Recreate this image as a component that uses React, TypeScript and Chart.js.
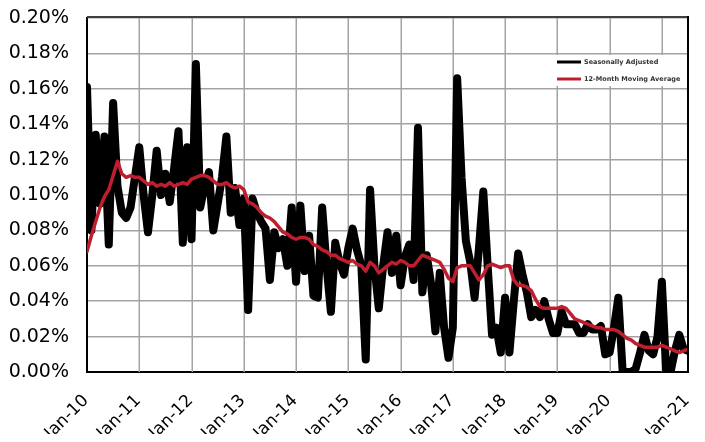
import React, { useEffect, useRef } from 'react';
import { Chart, registerables } from 'chart.js';

Chart.register(...registerables);

const TITLE = 'Figure 1: Lafayette Parish Foreclosure Rate (SA)';
const YEARS = ['10', '11', '12', '13', '14', '15', '16', '17', '18', '19', '20', '21'];
const MONTHS = ['Jan', 'Feb', 'Mar', 'Apr', 'May', 'Jun', 'Jul', 'Aug', 'Sep', 'Oct', 'Nov', 'Dec'];
const LAST_YEAR_MONTHS = 7; // Jan-21 .. Jul-21

const X_TICK_LABELS = ['Jan-10', 'Jan-11', 'Jan-12', 'Jan-13', 'Jan-14', 'Jan-15', 'Jan-16', 'Jan-17', 'Jan-18', 'Jan-19', 'Jan-20', 'Jan-21'];
const Y_TICKS = [0, 0.02, 0.04, 0.06, 0.08, 0.1, 0.12, 0.14, 0.16, 0.18, 0.2];

const SERIES_NAMES = ['Seasonally Adjusted', '12-Month Moving Average'];

// Seasonally adjusted foreclosure rate (%), monthly Jan-10 .. Jul-21
const SEASONALLY_ADJUSTED = [
  0.161, 0.080, 0.134, 0.095, 0.133, 0.072, 0.152, 0.105, 0.090, 0.087, 0.093, 0.110,
  0.127, 0.100, 0.079, 0.100, 0.125, 0.100, 0.112, 0.096, 0.115, 0.136, 0.073, 0.127,
  0.075, 0.174, 0.093, 0.105, 0.113, 0.080, 0.095, 0.110, 0.133, 0.090, 0.104, 0.083,
  0.098, 0.035, 0.098, 0.090, 0.085, 0.081, 0.052, 0.079, 0.070, 0.075, 0.060, 0.093,
  0.051, 0.094, 0.057, 0.077, 0.043, 0.042, 0.093, 0.060, 0.034, 0.073, 0.062, 0.055,
  0.070, 0.081, 0.069, 0.060, 0.007, 0.103, 0.060, 0.036, 0.060, 0.079, 0.056, 0.077,
  0.049, 0.065, 0.072, 0.052, 0.138, 0.045, 0.066, 0.050, 0.023, 0.056, 0.025, 0.008,
  0.025, 0.166, 0.110, 0.074, 0.062, 0.042, 0.070, 0.102, 0.060, 0.021, 0.025, 0.011,
  0.042, 0.011, 0.040, 0.067, 0.055, 0.045, 0.031, 0.035, 0.031, 0.040, 0.030, 0.022,
  0.022, 0.034, 0.027, 0.027, 0.027, 0.022, 0.022, 0.027, 0.024, 0.024, 0.026, 0.010,
  0.011, 0.025, 0.042, 0.000, 0.000, 0.000, 0.002, 0.011, 0.021, 0.012, 0.010, 0.020,
  0.051, 0.000, 0.000, 0.012, 0.021, 0.013, 0.012,
];

// 12-month moving average (%)
const MOVING_AVERAGE = [
  0.068, 0.077, 0.085, 0.093, 0.099, 0.103, 0.111, 0.119, 0.112, 0.110, 0.111, 0.110,
  0.110, 0.108, 0.106, 0.107, 0.105, 0.106, 0.105, 0.107, 0.105, 0.106, 0.107, 0.106,
  0.109, 0.110, 0.111, 0.111, 0.110, 0.108, 0.106, 0.106, 0.107, 0.105, 0.104, 0.105,
  0.103, 0.096, 0.095, 0.093, 0.090, 0.088, 0.087, 0.085, 0.082, 0.079, 0.078, 0.076,
  0.075, 0.076, 0.076, 0.075, 0.072, 0.071, 0.069, 0.068, 0.066, 0.066, 0.064, 0.063,
  0.062, 0.063, 0.061, 0.060, 0.057, 0.062, 0.060, 0.056, 0.058, 0.060, 0.062, 0.061,
  0.063, 0.062, 0.060, 0.060, 0.063, 0.066, 0.065, 0.064, 0.063, 0.062, 0.058, 0.053,
  0.051, 0.059, 0.060, 0.060, 0.060, 0.056, 0.052, 0.055, 0.060, 0.061, 0.060, 0.059,
  0.060, 0.060, 0.052, 0.049, 0.049, 0.048, 0.046, 0.041, 0.037, 0.036, 0.036, 0.036,
  0.036, 0.037, 0.036, 0.033, 0.030, 0.029, 0.028, 0.027, 0.026, 0.025, 0.025, 0.024,
  0.024, 0.024, 0.023, 0.021, 0.019, 0.018, 0.016, 0.015, 0.014, 0.014, 0.014, 0.014,
  0.015, 0.014, 0.013, 0.012, 0.011, 0.012, 0.013,
];

const BLACK = '#000000';
const RED = '#be1e2d';
const GRID = '#a3a3a3';
const FONT = '"DejaVu Sans", sans-serif';

const CATEGORIES: string[] = [];
YEARS.forEach((y, yi) => {
  const n = yi === YEARS.length - 1 ? LAST_YEAR_MONTHS : 12;
  for (let m = 0; m < n; m++) CATEGORIES.push(`${MONTHS[m]}-${y}`);
});
const LAST = CATEGORIES.length - 1;

// positions (month index) of the x-axis labels, as placed in the source chart
const X_TICK_POS: number[] = X_TICK_LABELS.map((_, i) => (i < X_TICK_LABELS.length - 1 ? i * 12 : LAST));
// vertical gridlines every January
const X_GRID_POS: number[] = X_TICK_LABELS.slice(1).map((_, i) => (i + 1) * 12);

const decorPlugin = {
  id: 'decor',
  beforeDraw(chart: any) {
    const { ctx, width, height } = chart;
    ctx.save();
    ctx.fillStyle = '#ffffff';
    ctx.fillRect(0, 0, width, height);
    ctx.restore();
  },
  beforeDatasetsDraw(chart: any) {
    const { ctx, chartArea: a, scales } = chart;
    ctx.save();
    ctx.strokeStyle = GRID;
    ctx.lineWidth = 1.5;
    X_GRID_POS.forEach((v) => {
      const x = Math.round(scales.x.getPixelForValue(v)) + 0.25;
      ctx.beginPath();
      ctx.moveTo(x, a.top);
      ctx.lineTo(x, a.bottom);
      ctx.stroke();
    });
    ctx.restore();
  },
  afterDraw(chart: any) {
    const { ctx, chartArea: a, height, scales } = chart;
    ctx.save();
    // plot area top & right border
    ctx.strokeStyle = '#404040';
    ctx.lineWidth = 2;
    ctx.beginPath();
    ctx.moveTo(a.left, a.top - 1);
    ctx.lineTo(a.right, a.top - 1);
    ctx.stroke();
    ctx.strokeStyle = BLACK;
    ctx.beginPath();
    ctx.moveTo(a.right, a.top - 2);
    ctx.lineTo(a.right, a.bottom + 1);
    ctx.stroke();
    // outer chart frame (left edge)
    ctx.strokeStyle = '#6e6e6e';
    ctx.lineWidth = 1.5;
    ctx.beginPath();
    ctx.moveTo(3, 0);
    ctx.lineTo(3, height);
    ctx.stroke();
    // x-axis labels, rotated 45 degrees
    ctx.fillStyle = '#000';
    ctx.font = `17px ${FONT}`;
    ctx.textAlign = 'right';
    ctx.textBaseline = 'middle';
    X_TICK_POS.forEach((v, i) => {
      const x = scales.x.getPixelForValue(v);
      ctx.save();
      ctx.translate(x - 1, a.bottom + 26);
      ctx.rotate(-Math.PI / 4);
      ctx.fillText(X_TICK_LABELS[i], 0, 0);
      ctx.restore();
    });
    // title (cut off at the top)
    ctx.font = `italic 18px ${FONT}`;
    ctx.textAlign = 'center';
    ctx.textBaseline = 'alphabetic';
    ctx.fillText(TITLE, 371, 2);
    // legend
    const lx = a.left + 470;
    const items = [
      { name: SERIES_NAMES[0], color: BLACK, y: a.top + 44 },
      { name: SERIES_NAMES[1], color: RED, y: a.top + 61 },
    ];
    ctx.fillStyle = '#ffffff';
    ctx.fillRect(lx - 6, a.top + 37, a.right - lx + 4, 31);
    items.forEach((it) => {
      ctx.strokeStyle = it.color;
      ctx.lineWidth = 3;
      ctx.beginPath();
      ctx.moveTo(lx, it.y);
      ctx.lineTo(lx + 24, it.y);
      ctx.stroke();
      ctx.fillStyle = '#333';
      ctx.font = `bold 6.5px ${FONT}`;
      ctx.textAlign = 'left';
      ctx.textBaseline = 'middle';
      ctx.fillText(it.name, lx + 27, it.y);
    });
    ctx.restore();
  },
};

const zeroPad = (s: any) => {
  s.paddingLeft = 0;
  s.paddingRight = 0;
  s.paddingTop = 0;
  s.paddingBottom = 0;
};

export default function App() {
  const ref = useRef<HTMLCanvasElement | null>(null);

  useEffect(() => {
    if (!ref.current) return;
    const chart = new Chart(ref.current, {
      type: 'line',
      data: {
        labels: CATEGORIES,
        datasets: [
          {
            label: SERIES_NAMES[1],
            data: MOVING_AVERAGE.map((v, i) => ({ x: i, y: v })),
            borderColor: RED,
            borderWidth: 3.5,
            pointRadius: 0,
            tension: 0,
            borderJoinStyle: 'round',
            borderCapStyle: 'round',
            order: 0,
          },
          {
            label: SERIES_NAMES[0],
            data: SEASONALLY_ADJUSTED.map((v, i) => ({ x: i, y: v })),
            borderColor: BLACK,
            borderWidth: 8,
            pointRadius: 0,
            tension: 0,
            borderJoinStyle: 'round',
            borderCapStyle: 'round',
            order: 1,
          },
        ],
      },
      options: {
        responsive: false,
        animation: false,
        events: [],
        layout: { padding: { top: 18, right: 17, left: 0, bottom: 0 } },
        plugins: {
          legend: { display: false },
          title: { display: false },
          tooltip: { enabled: false },
        },
        scales: {
          x: {
            type: 'linear',
            min: 0,
            max: LAST,
            afterFit: (s: any) => {
              s.height = 70;
              zeroPad(s);
            },
            grid: { display: false },
            border: { color: BLACK, width: 2 },
            ticks: { display: false },
          },
          y: {
            min: Y_TICKS[0],
            max: Y_TICKS[Y_TICKS.length - 1],
            afterFit: (s: any) => {
              s.width = 87;
              zeroPad(s);
            },
            afterBuildTicks: (s: any) => {
              s.ticks = Y_TICKS.map((v) => ({ value: v }));
            },
            grid: {
              color: GRID,
              lineWidth: 1.5,
              drawTicks: false,
            },
            border: { color: BLACK, width: 2 },
            ticks: {
              padding: 18,
              color: '#000',
              font: { family: FONT, size: 19 },
              callback: (v: any) => `${Number(v).toFixed(2)}%`,
            },
          },
        },
      },
      plugins: [decorPlugin],
    } as any);
    return () => chart.destroy();
  }, []);

  return (
    <div style={{ margin: -8, width: 705, height: 442 }}>
      <canvas ref={ref} width={705} height={442} style={{ width: 705, height: 442, display: 'block' }} />
    </div>
  );
}
